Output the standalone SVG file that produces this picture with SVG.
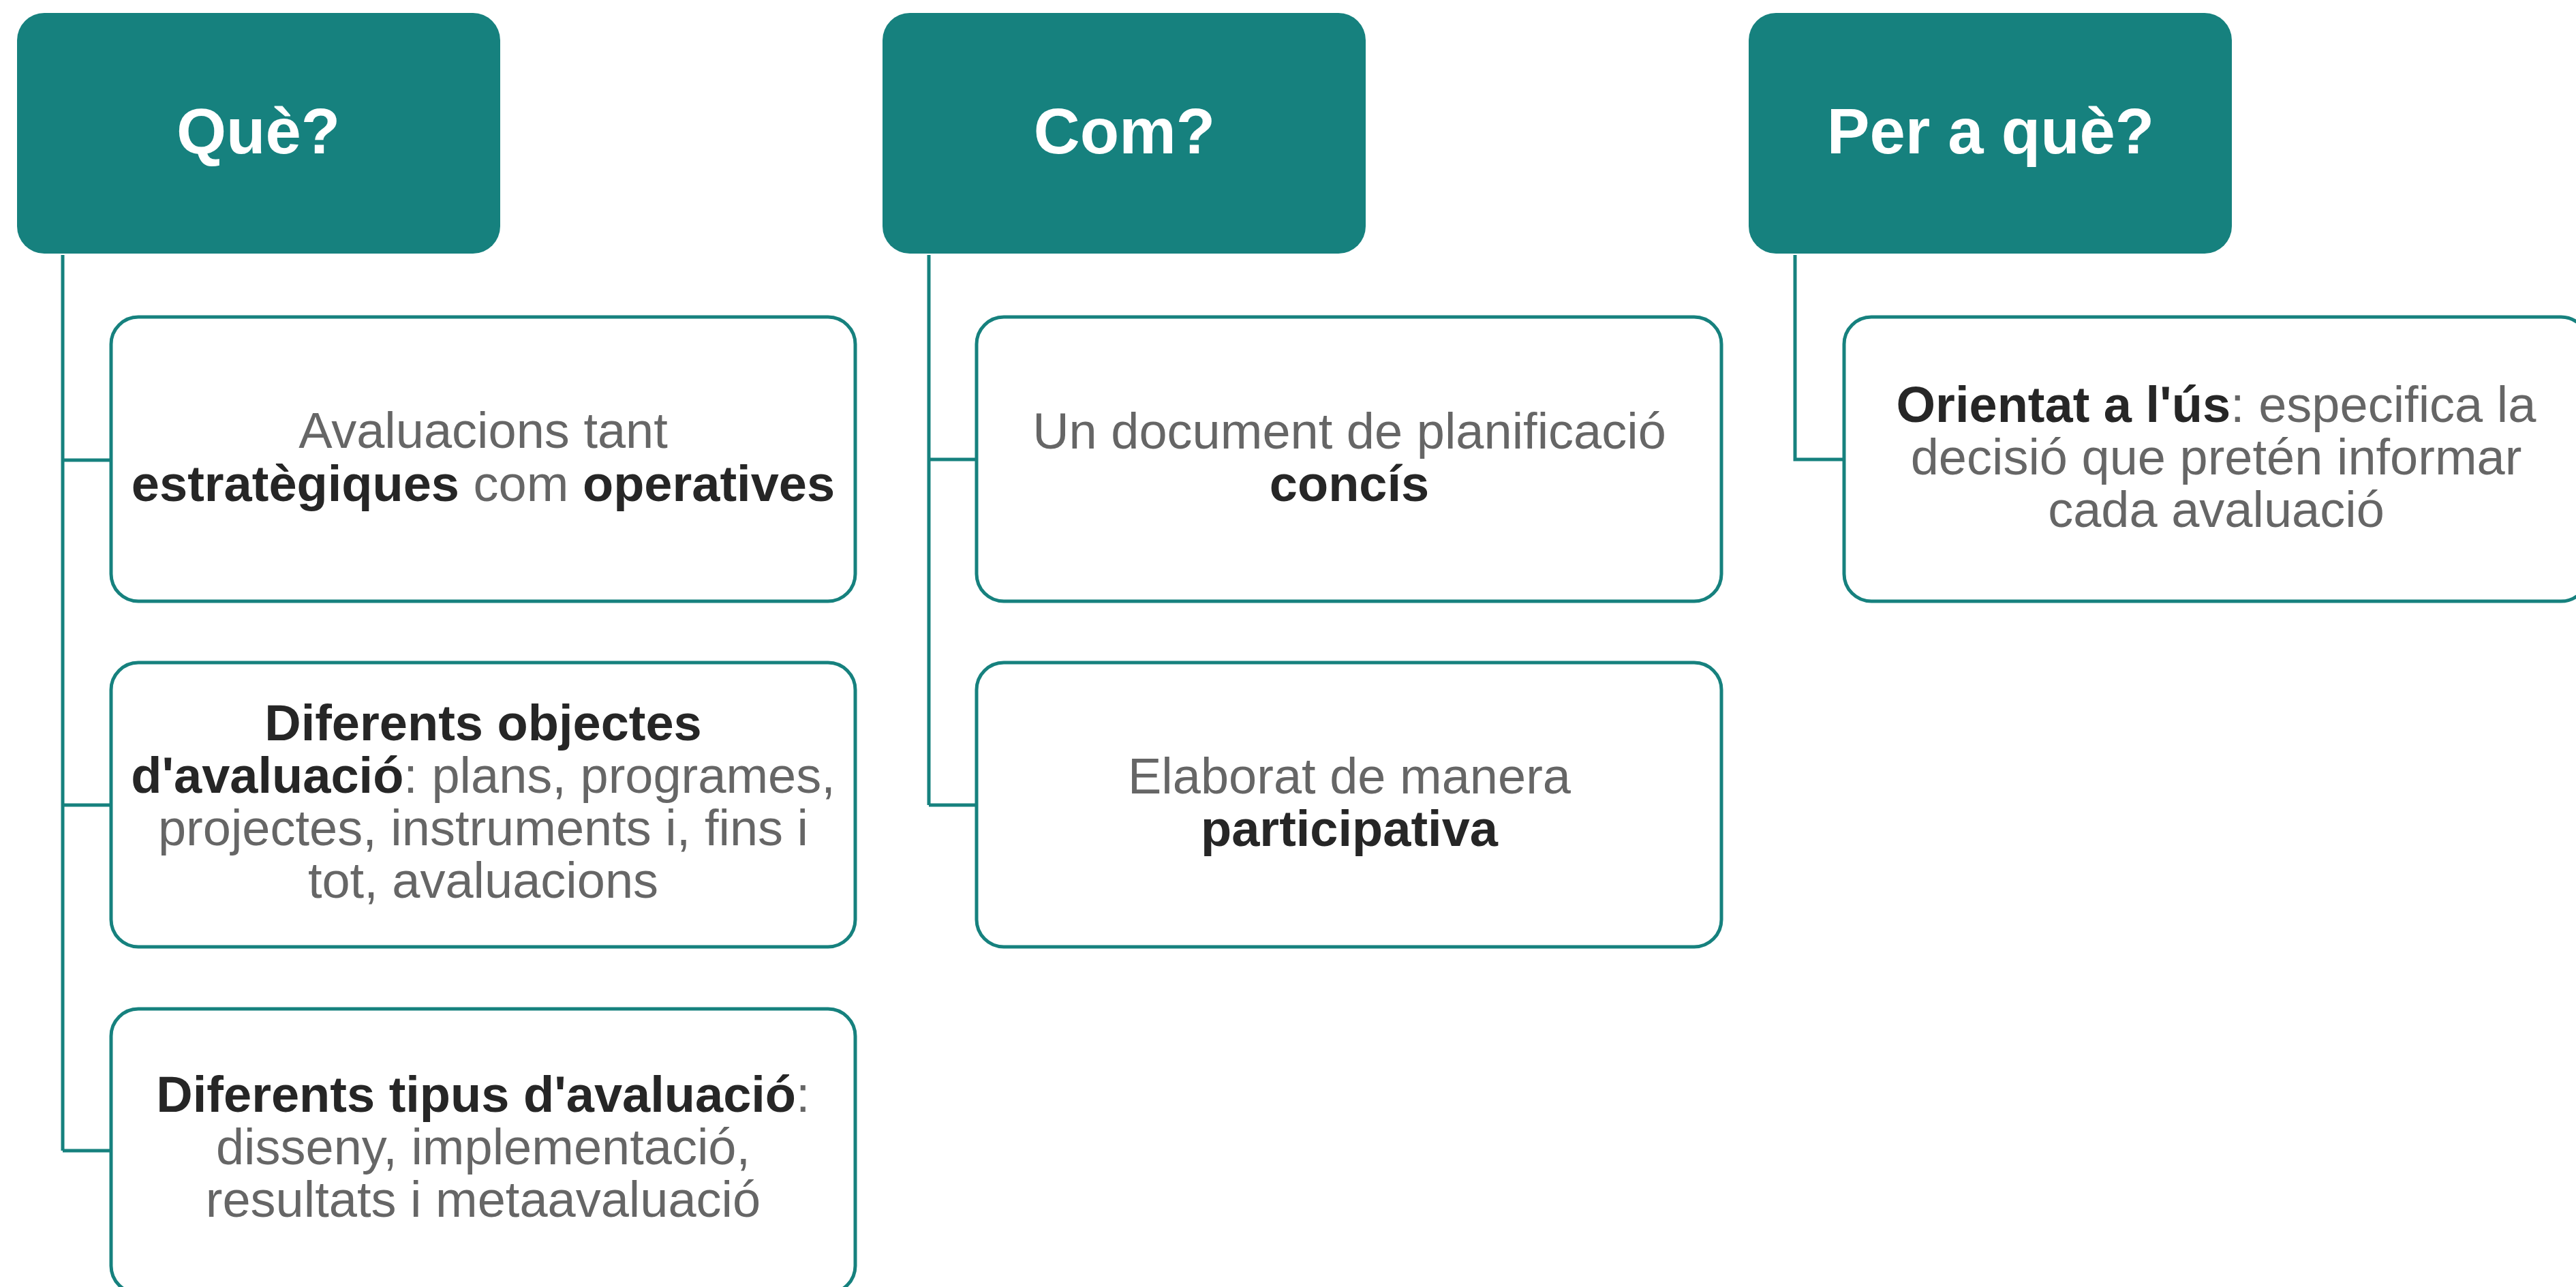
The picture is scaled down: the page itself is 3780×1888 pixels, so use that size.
<svg xmlns="http://www.w3.org/2000/svg" width="3780" height="1888" viewBox="0 0 3780 1888">
<style>
.hdr{fill:#16817E;}
.hdrt{font-family:"Liberation Sans",Arial,sans-serif;font-weight:bold;font-size:94px;fill:#ffffff;text-anchor:middle;}
.box{fill:#ffffff;stroke:#16817E;stroke-width:5;}
.t{font-family:"Liberation Sans",Arial,sans-serif;font-size:74px;fill:#666666;text-anchor:middle;}
.b{font-weight:bold;fill:#262626;}
.con{fill:none;stroke:#16817E;stroke-width:5;}
</style>
<rect width="3780" height="1888" fill="#ffffff"/>
<g id="connectors">
<path class="con" d="M92,374 V1688 M92,675 H163 M92,1181 H163 M92,1688 H163"/>
<path class="con" d="M1363,374 V1181 M1363,674 H1433 M1363,1181 H1433"/>
<path class="con" d="M2634,374 V674 H2706"/>
</g>
<g id="h1"><rect class="hdr" x="25" y="19" width="709" height="353" rx="40"/><text class="hdrt" x="379" y="225">Què?</text></g>
<g id="h2"><rect class="hdr" x="1295" y="19" width="709" height="353" rx="40"/><text class="hdrt" x="1650" y="225">Com?</text></g>
<g id="h3"><rect class="hdr" x="2566" y="19" width="709" height="353" rx="40"/><text class="hdrt" x="2921" y="225">Per a què?</text></g>
<g id="c1a"><rect class="box" x="163" y="465" width="1092" height="417" rx="40"/>
<text class="t" x="709" y="657">Avaluacions tant</text>
<text class="t" x="709" y="735"><tspan class="b">estratègiques</tspan> com <tspan class="b">operatives</tspan></text></g>
<g id="c1b"><rect class="box" x="163" y="972" width="1092" height="417" rx="40"/>
<text class="t" x="709" y="1086"><tspan class="b">Diferents objectes</tspan></text>
<text class="t" x="709" y="1163"><tspan class="b">d'avaluació</tspan>: plans, programes,</text>
<text class="t" x="709" y="1240">projectes, instruments i, fins i</text>
<text class="t" x="709" y="1317">tot, avaluacions</text></g>
<g id="c1c"><rect class="box" x="163" y="1480" width="1092" height="417" rx="40"/>
<text class="t" x="709" y="1631"><tspan class="b">Diferents tipus d'avaluació</tspan>:</text>
<text class="t" x="709" y="1708">disseny, implementació,</text>
<text class="t" x="709" y="1785">resultats i metaavaluació</text></g>
<g id="c2a"><rect class="box" x="1433" y="465" width="1093" height="417" rx="40"/>
<text class="t" x="1980" y="658">Un document de planificació</text>
<text class="t" x="1980" y="735"><tspan class="b">concís</tspan></text></g>
<g id="c2b"><rect class="box" x="1433" y="972" width="1093" height="417" rx="40"/>
<text class="t" x="1980" y="1164">Elaborat de manera</text>
<text class="t" x="1980" y="1241"><tspan class="b">participativa</tspan></text></g>
<g id="c3a"><rect class="box" x="2706" y="465" width="1092" height="417" rx="40"/>
<text class="t" x="3252" y="619"><tspan class="b">Orientat a l'ús</tspan>: especifica la</text>
<text class="t" x="3252" y="696">decisió que pretén informar</text>
<text class="t" x="3252" y="773">cada avaluació</text></g>
</svg>
